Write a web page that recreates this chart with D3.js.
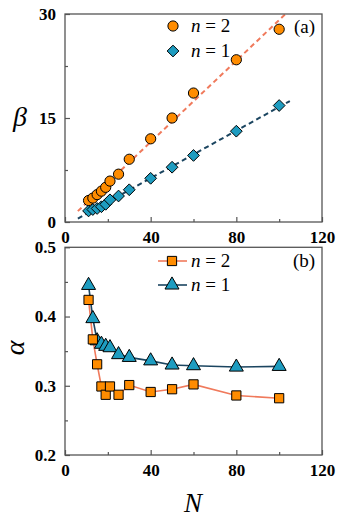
<!DOCTYPE html>
<html><head><meta charset="utf-8">
<style>
.fl{position:absolute;left:2px;top:2px;font-family:"Liberation Serif";font-size:18px;color:#fff;z-index:0;line-height:18px;}
.fl .a::before{content:"0.5 (a)";}
.fl .b::before{content:"120";font-weight:bold;}
.fl .c::before{content:"n N \03B2 \03B1";font-style:italic;}
#c{position:absolute;left:0;top:0;z-index:1;}
</style>
<script>
try {
  ["18px", "bold 18px", "italic 18px"].forEach(s => document.fonts.load(s + ' "Liberation Serif"', "0.5βαNn"));
} catch (e) {}
</script>
<script src="https://cdn.jsdelivr.net/npm/d3@7"></script>
</head><body style="margin:0;background:#fff">
<div class="fl" aria-hidden="true"><span class="a"></span><span class="b"></span><span class="c"></span></div>
<svg id="c" width="340" height="522"></svg>
<script>
// ---- data ----
const N = [11, 13, 15, 17, 19, 21, 25, 30, 40, 50, 60, 80, 100];
const beta_n2 = [3.1, 3.45, 3.95, 4.45, 5.0, 5.9, 6.9, 9.05, 12.0, 15.0, 18.6, 23.4, 27.8];
const beta_n1 = [1.6, 1.8, 1.95, 2.2, 2.55, 3.2, 3.75, 4.65, 6.3, 7.9, 9.6, 13.1, 16.8];
const fitN = [6, 105];
const fit_n2 = [1.57, 30.6];
const fit_n1 = [0.5, 17.45];
const alpha_n2 = [0.424, 0.367, 0.331, 0.299, 0.287, 0.299, 0.287, 0.301, 0.291, 0.295, 0.302, 0.286, 0.282];
const alpha_n1 = [0.445, 0.397, 0.365, 0.360, 0.357, 0.355, 0.345, 0.341, 0.336, 0.330, 0.329, 0.327, 0.328];
const xTicks = [0, 40, 80, 120];
const xMinor = [20, 60, 100];
const betaTicks = [0, 15, 30];
const betaMinor = [7.5, 22.5];
const alphaTicks = [0.2, 0.3, 0.4, 0.5];
const alphaMinor = [0.25, 0.35, 0.45];

const ORANGE = "#ff8c00", TEAL = "#1e9cc0", SALMON = "#f07a5c", NAVY = "#1b4560", FRAME = "#555";
const SERIF = "Liberation Serif";

const svg = d3.select("#c");
const L = 65, R = 322;
const x = d3.scaleLinear().domain([0, 120]).range([L, R]);

function frame(y, top, bot, yt, ymin, fmt) {
  const xa = d3.axisBottom(x).tickValues(xTicks).tickSize(-5).tickPadding(9).tickFormat(d3.format("d"));
  svg.append("g").attr("transform", `translate(0,${bot})`).call(xa);
  svg.append("g").attr("transform", `translate(0,${bot})`).call(d3.axisBottom(x).tickValues(xMinor).tickSize(-3).tickFormat(""));
  const yaxis = d3.axisLeft(y).tickValues(yt).tickSize(-5).tickPadding(9).tickFormat(fmt);
  svg.append("g").attr("transform", `translate(${L},0)`).call(yaxis);
  svg.append("g").attr("transform", `translate(${L},0)`).call(d3.axisLeft(y).tickValues(ymin).tickSize(-3).tickFormat(""));
  svg.selectAll(".domain").remove();
  svg.selectAll("g").attr("font-family", SERIF).attr("font-size", 17);
  svg.selectAll(".tick line").attr("stroke", FRAME).attr("stroke-width", 1.2);
  svg.selectAll(".tick text").attr("font-family", SERIF).attr("font-weight", "bold").attr("font-size", 17).attr("fill", "#000");
  svg.append("rect").attr("x", L).attr("y", top).attr("width", R - L).attr("height", bot - top)
    .attr("fill", "none").attr("stroke", FRAME).attr("stroke-width", 1.3);
}

// ---------- panel (a) ----------
const ya = d3.scaleLinear().domain([0, 30]).range([222, 14]);
svg.append("clipPath").attr("id", "clipA").append("rect").attr("x", L).attr("y", 14).attr("width", R - L).attr("height", 208);
const fitLine = d3.line().x(d => x(d[0])).y(d => ya(d[1]));
svg.append("path").attr("clip-path", "url(#clipA)").attr("d", fitLine(fitN.map((n, i) => [n, fit_n2[i]])))
  .attr("fill", "none").attr("stroke", SALMON).attr("stroke-width", 2).attr("stroke-dasharray", "5,3.5");
svg.append("path").attr("d", fitLine(fitN.map((n, i) => [n, fit_n1[i]])))
  .attr("fill", "none").attr("stroke", NAVY).attr("stroke-width", 2).attr("stroke-dasharray", "5,3.5");
const diamond = d3.symbol().type(d3.symbolDiamond2).size(88)();
const circleSym = d3.symbol().type(d3.symbolCircle).size(82)();
svg.selectAll(".d1").data(N).join("path").attr("class", "d1").attr("d", diamond)
  .attr("transform", (d, i) => `translate(${x(d)},${ya(beta_n1[i])})`)
  .attr("fill", TEAL).attr("stroke", "#000").attr("stroke-width", 1);
svg.selectAll(".c2").data(N).join("path").attr("class", "c2").attr("d", circleSym)
  .attr("transform", (d, i) => `translate(${x(d)},${ya(beta_n2[i])})`)
  .attr("fill", ORANGE).attr("stroke", "#000").attr("stroke-width", 1);
frame(ya, 14, 222, betaTicks, betaMinor, d3.format("d"));

function legText(xx, yy, val) {
  const t = svg.append("text").attr("x", xx).attr("y", yy).attr("font-family", SERIF).attr("font-size", 19);
  t.append("tspan").attr("font-style", "italic").text("n");
  t.append("tspan").text(" = " + val);
}
svg.append("path").attr("d", circleSym).attr("transform", "translate(173,26)").attr("fill", ORANGE).attr("stroke", "#000");
svg.append("path").attr("d", diamond).attr("transform", "translate(173,51)").attr("fill", TEAL).attr("stroke", "#000");
legText(191, 32, 2);
legText(191, 57, 1);
svg.append("text").attr("x", 294).attr("y", 33).attr("font-family", SERIF).attr("font-size", 19).text("(a)");
svg.append("text").attr("x", 13).attr("y", 126).attr("font-family", SERIF).attr("font-style", "italic").attr("font-size", 28).text("β");

// ---------- panel (b) ----------
const yb = d3.scaleLinear().domain([0.2, 0.5]).range([455, 247.3]);
frame(yb, 247.3, 455, alphaTicks, alphaMinor, d3.format(".1f"));
const lineB = d3.line().x((d, i) => x(N[i])).y(d => yb(d));
svg.append("path").attr("d", lineB(alpha_n2)).attr("fill", "none").attr("stroke", SALMON).attr("stroke-width", 1.6);
svg.append("path").attr("d", lineB(alpha_n1)).attr("fill", "none").attr("stroke", NAVY).attr("stroke-width", 1.6);
const tri = d3.symbol().type(d3.symbolTriangle).size(85)();
const sq = d3.symbol().type(d3.symbolSquare).size(85)();
svg.selectAll(".t1").data(N).join("path").attr("class", "t1").attr("d", tri)
  .attr("transform", (d, i) => `translate(${x(d)},${yb(alpha_n1[i])})`)
  .attr("fill", TEAL).attr("stroke", "#000").attr("stroke-width", 1);
svg.selectAll(".s2").data(N).join("path").attr("class", "s2").attr("d", sq)
  .attr("transform", (d, i) => `translate(${x(d)},${yb(alpha_n2[i])})`)
  .attr("fill", ORANGE).attr("stroke", "#000").attr("stroke-width", 1);
svg.append("line").attr("x1", 158).attr("x2", 187).attr("y1", 261).attr("y2", 261).attr("stroke", SALMON).attr("stroke-width", 1.6);
svg.append("path").attr("d", sq).attr("transform", "translate(172,261)").attr("fill", ORANGE).attr("stroke", "#000");
svg.append("line").attr("x1", 158).attr("x2", 187).attr("y1", 285).attr("y2", 285).attr("stroke", NAVY).attr("stroke-width", 1.6);
svg.append("path").attr("d", tri).attr("transform", "translate(172,285)").attr("fill", TEAL).attr("stroke", "#000");
legText(191, 267, 2);
legText(191, 291, 1);
svg.append("text").attr("x", 293).attr("y", 267).attr("font-family", SERIF).attr("font-size", 19).text("(b)");
svg.append("text").attr("transform", "translate(24,348) rotate(-90)").attr("text-anchor", "middle")
  .attr("font-family", SERIF).attr("font-style", "italic").attr("font-size", 28).text("α");
svg.append("text").attr("x", 193).attr("y", 512).attr("text-anchor", "middle")
  .attr("font-family", SERIF).attr("font-style", "italic").attr("font-size", 27).text("N");

// nudge a repaint once fonts are ready
if (document.fonts && document.fonts.ready) {
  document.fonts.ready.then(() => { svg.selectAll("text").attr("font-family", SERIF); });
}
</script>
</body></html>
